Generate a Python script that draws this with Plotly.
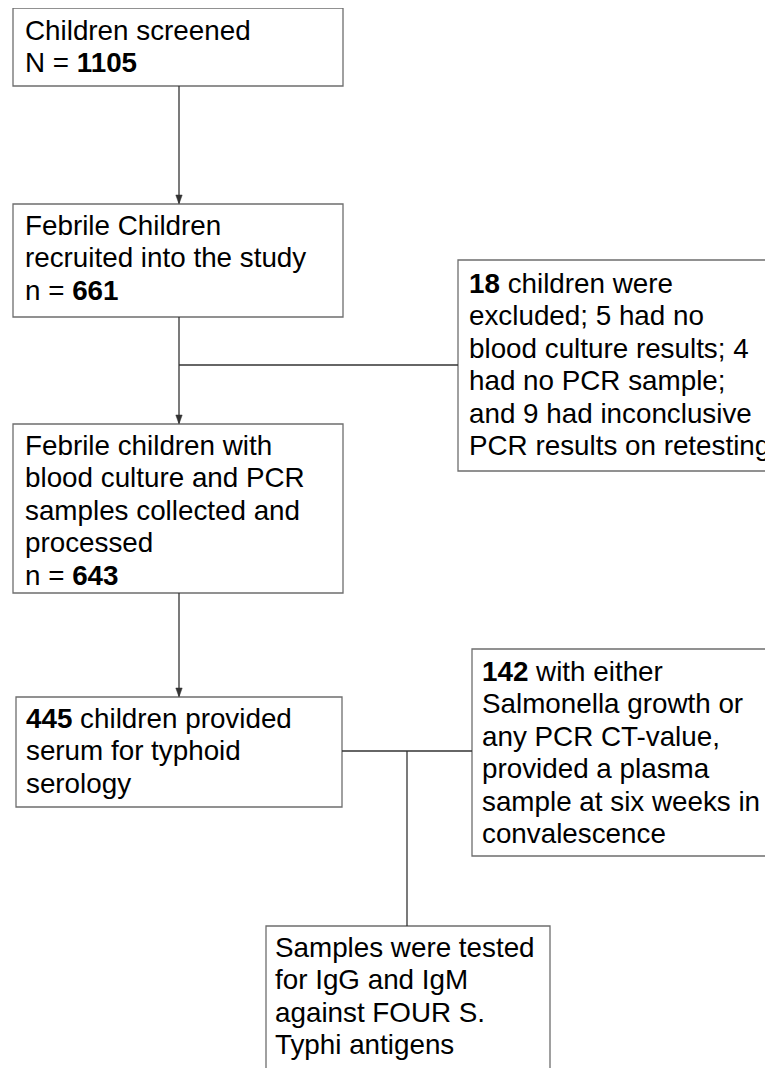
import plotly.graph_objects as go

# ---- data (counts shown in the flow chart) ----
screened = 1105
recruited = 661
processed = 643
serology = 445
convalescent = 142
excluded = 18
no_culture = 5
no_pcr = 4
inconclusive = 9

box_lines = {
    "screened": ["Children screened", f"N = <b>{screened}</b>"],
    "recruited": ["Febrile Children", "recruited into the study", f"n = <b>{recruited}</b>"],
    "processed": ["Febrile children with", "blood culture and PCR", "samples collected and",
                  "processed", f"n = <b>{processed}</b>"],
    "excluded": [f"<b>{excluded}</b> children were", f"excluded; {no_culture} had no",
                 f"blood culture results; {no_pcr}", "had no PCR sample;",
                 f"and {inconclusive} had inconclusive", "PCR results on retesting"],
    "serology": [f"<b>{serology}</b> children provided", "serum for typhoid", "serology"],
    "convalescent": [f"<b>{convalescent}</b> with either", "Salmonella growth or",
                     "any PCR CT-value,", "provided a plasma", "sample at six weeks in",
                     "convalescence"],
    "tested": ["Samples were tested", "for IgG and IgM", "against FOUR S.", "Typhi antigens"],
}

# ---- layout geometry (pixel coordinates) ----
geom = {
    "screened":     (13, 8, 343, 86, 25, 40),
    "recruited":    (13, 204, 343, 317, 25, 235),
    "processed":    (13, 424, 343, 593, 25, 455),
    "excluded":     (458, 260, 800, 471, 469, 293),
    "serology":     (16, 697, 342, 807, 26, 728),
    "convalescent": (472, 649, 800, 856, 482, 681),
    "tested":       (266, 926, 550, 1090, 275, 957),
}
FS = 27.8
LS = 32.5
FONT = "Liberation Sans, Arial, sans-serif"
BOX_COL = "#6e6e6e"
LINE_COL = "#333333"
OFF = 8  # page body margin compensation

fig = go.Figure()
fig.add_trace(go.Scatter(x=[OFF, 773 + OFF], y=[OFF, 1068 + OFF], mode="markers",
                         marker=dict(opacity=0), hoverinfo="skip", showlegend=False))

shapes = []
annotations = []
for key, (x0, y0, x1, y1, tx, b0) in geom.items():
    shapes.append(dict(type="rect", xref="x", yref="y", x0=x0, y0=y0, x1=x1, y1=y1,
                       line=dict(color=BOX_COL, width=1.3), fillcolor="white", layer="below"))
    for i, line in enumerate(box_lines[key]):
        base = b0 + i * LS
        annotations.append(dict(x=tx, y=base - 0.3465 * FS, xref="x", yref="y",
                                text=line, showarrow=False, xanchor="left", yanchor="middle",
                                align="left", borderpad=0, borderwidth=0,
                                font=dict(family=FONT, size=FS, color="#000000")))

def seg(xa, ya, xb, yb):
    shapes.append(dict(type="line", xref="x", yref="y", x0=xa, y0=ya, x1=xb, y1=yb,
                       line=dict(color=LINE_COL, width=1.3)))

def arrow_head(x, y):
    shapes.append(dict(type="path", xref="x", yref="y",
                       path=f"M {x-3.2},{y-9} L {x+3.2},{y-9} L {x},{y} Z",
                       fillcolor=LINE_COL, line=dict(color=LINE_COL, width=0.5)))

cx = 179
seg(cx, 86, cx, 203)
arrow_head(cx, 204)
seg(cx, 317, cx, 423)
arrow_head(cx, 424)
seg(cx, 365, 458, 365)
seg(cx, 593, cx, 696)
arrow_head(cx, 697)
seg(342, 751, 472, 751)
seg(407, 751, 407, 926)

fig.update_layout(
    width=773, height=1068,
    margin=dict(l=0, r=0, t=0, b=0),
    paper_bgcolor="white", plot_bgcolor="white",
    xaxis=dict(range=[OFF, 773 + OFF], visible=False, fixedrange=True),
    yaxis=dict(range=[1068 + OFF, OFF], visible=False, fixedrange=True),
    shapes=shapes, annotations=annotations, showlegend=False,
)
fig.write_html("out.html")
